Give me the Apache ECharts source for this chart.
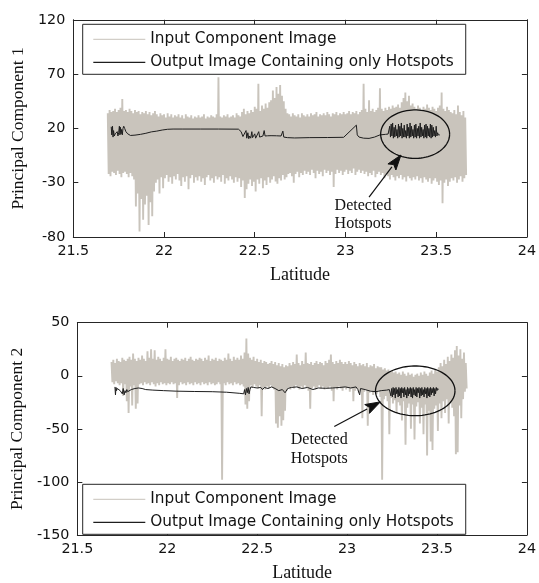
<!DOCTYPE html>
<html><head><meta charset="utf-8">
<script src="https://cdn.jsdelivr.net/npm/echarts@6/dist/echarts.min.js"></script>
<style>html,body{margin:0;padding:0;background:#fff}#c{width:539px;height:583px}</style>
</head><body><div id="c"></div>
<script>
// ---------- data ----------
const seriesNames = ['Input Component Image', 'Output Image Containing only Hotspots'];
const xTicks = [21.5, 22, 22.5, 23, 23.5, 24];
const pc1Ticks = [-80, -30, 20, 70, 120];
const pc2Ticks = [-150, -100, -50, 0, 50];

// input image: sampled every 0.01 deg of latitude from 21.69, upper / lower excursion per sample
const latStart = 21.69, latStep = 0.01;
const pc1High = [
  34, 37, 35, 36, 38, 35, 37, 39, 47, 36,
  37, 35, 38, 36, 34, 37, 35, 36, 33, 35,
  34, 36, 33, 35, 32, 34, 36, 33, 31, 34,
  32, 33, 30, 34, 31, 33, 30, 32, 31, 33,
  30, 32, 29, 33, 31, 30, 32, 29, 31, 30,
  32, 30, 31, 33, 29, 31, 30, 32, 31, 30,
  33, 67, 31, 30, 32, 31, 33, 30, 31, 32,
  30, 34, 32, 31, 35, 38, 33, 36, 34, 37,
  35, 40, 38, 61, 36, 41, 38, 43, 39, 44,
  46, 55, 48, 58, 52, 60, 50, 45, 38, 34,
  33, 31, 34, 32, 31, 33, 30, 34, 32, 31,
  33, 31, 34, 32, 33, 35, 31, 33, 32, 34,
  32, 35, 33, 31, 34, 33, 35, 32, 34, 33,
  35, 33, 34, 36, 33, 35, 34, 36, 33, 35,
  37, 61, 38, 35, 46, 36, 38, 35, 37, 39,
  57, 38, 36, 39, 37, 40, 38, 41, 39, 40,
  42, 39, 44, 48, 53, 45, 50, 41, 43, 40,
  38, 41, 39, 37, 40, 38, 42, 39, 37, 40,
  38, 36, 39, 41, 53, 38, 36, 40, 37, 35,
  34, 37, 33, 41, 35, 32, 36, 30
];
const pc1Low = [
  -22, -24, -20, -21, -23, -19, -22, -25, -21, -20,
  -22, -25, -21, -24, -27, -52, -40, -75, -45, -64,
  -50, -42, -69, -48, -61, -38, -30, -27, -40, -25,
  -35, -26, -23, -29, -25, -31, -24, -27, -22, -28,
  -33, -25, -29, -24, -36, -26, -23, -30, -25, -28,
  -24, -29, -26, -32, -25, -23, -28, -26, -30, -24,
  -27, -25, -29, -23, -31, -26, -28, -24, -27, -30,
  -25, -29, -26, -34, -28, -44, -36, -31, -27, -33,
  -29, -38, -27, -31, -26, -35, -28, -32, -25, -30,
  -27, -24, -29, -31, -26, -28, -23, -27, -25, -22,
  -21, -24, -30, -22, -20, -25, -21, -23, -19, -22,
  -20, -23, -18, -21, -26, -19, -22, -20, -24, -18,
  -21, -19, -23, -20, -34, -22, -18, -21, -19, -23,
  -20, -18, -22, -19, -21, -17, -23, -20, -18, -21,
  -19, -22, -20, -24, -21, -23, -19, -25, -22, -20,
  -23, -21, -26, -22, -24, -27, -23, -25, -28, -24,
  -26, -23, -27, -25, -29, -24, -26, -28, -25, -27,
  -24, -28, -26, -30, -25, -27, -29, -26, -31, -28,
  -26, -29, -32, -28, -49, -30, -27, -33, -29, -26,
  -28, -25, -30, -27, -24, -29, -26, -23
];
const pc2High = [
  13, 15, 12, 16, 14, 13, 17, 15, 14, 16,
  18, 15, 21, 16, 14, 17, 15, 19, 16, 14,
  23, 17, 25, 16, 24, 15, 18, 16, 14, 17,
  25, 16, 15, 18, 14, 16, 17, 15, 14, 16,
  15, 17, 14, 16, 18, 15, 14, 16, 15, 17,
  16, 14, 17, 15, 19, 14, 16, 15, 17, 14,
  16, 15, 14, 17, 15, 21, 16, 14, 18, 15,
  17, 15, 19, 16, 22, 35, 21, 17, 15, 18,
  14, 16, 13, 15, 12, 14, 13, 11, 12, 14,
  11, 13, 10, 12, 9, 11, 8, 10, 9, 12,
  10, 13, 11, 20, 12, 10, 14, 11, 22, 12,
  11, 13, 10, 12, 14, 11, 13, 12, 10, 14,
  12, 15, 20, 13, 11, 14, 12, 15, 13, 11,
  13, 11, 14, 12, 10, 13, 11, 9, 12, 10,
  11, 9, 12, 8, 10, 9, 11, 7, 9, 8,
  8, 6, 7, 5, 6, 4, 5, 3, 4, 2,
  3, 1, 4, 2, 0, 3, 1, 2, -1, 1,
  2, 0, 3, 1, 4, 2, 0, 3, 5, 2,
  6, 4, 8, 12, 9, 15, 11, 18, 14, 20,
  17, 24, 28, 19, 25, 16, 22, 12
];
const pc2Low = [
  -6, -8, -5, -7, -9, -7, -19, -8, -24, -35,
  -10, -28, -9, -31, -26, -8, -7, -9, -6, -8,
  -7, -9, -6, -8, -10, -7, -9, -6, -8, -7,
  -9, -7, -8, -6, -8, -7, -21, -9, -6, -8,
  -7, -9, -6, -8, -7, -9, -6, -8, -7, -9,
  -6, -8, -7, -9, -6, -8, -7, -9, -8, -6,
  -8, -98, -7, -9, -6, -8, -7, -9, -6, -8,
  -7, -9, -8, -10, -27, -31, -24, -9, -11, -8,
  -10, -12, -9, -38, -11, -13, -10, -12, -9, -11,
  -13, -45, -49, -38, -47, -42, -33, -14, -11, -13,
  -10, -12, -9, -11, -13, -10, -12, -9, -11, -14,
  -31, -12, -10, -13, -11, -9, -12, -10, -13, -11,
  -12, -10, -14, -24, -11, -13, -10, -12, -14, -11,
  -13, -11, -15, -12, -24, -14, -12, -16, -13, -40,
  -15, -13, -47, -16, -14, -18, -15, -17, -14, -20,
  -98, -22, -19, -24, -55, -21, -26, -23, -35, -25,
  -28, -42, -24, -65, -30, -26, -50, -27, -60, -29,
  -25, -45, -30, -55, -27, -75, -33, -62, -70, -31,
  -28, -52, -26, -40, -24, -35, -22, -45, -25, -30,
  -38, -74, -72, -28, -40, -22, -15, -12
];

// output image (hotspots only)
const pc1OutLat = [21.709, 21.712, 21.716, 21.719, 21.722, 21.726, 21.731, 21.736, 21.742, 21.746,
  21.750, 21.754, 21.757, 21.760, 21.763, 21.766, 21.770, 21.774, 21.778, 21.783,
  21.790, 21.800, 21.815, 21.84, 21.87, 21.90, 21.93, 21.96, 21.99, 22.02,
  22.05, 22.10, 22.20, 22.30, 22.41, 22.425, 22.435, 22.445, 22.452, 22.456,
  22.462, 22.467, 22.472, 22.478, 22.484, 22.488, 22.494, 22.50, 22.505, 22.515,
  22.522, 22.527, 22.535, 22.545, 22.552, 22.557, 22.57, 22.59, 22.62, 22.645,
  22.655, 22.66, 22.68, 22.72, 22.80, 22.90, 22.99, 23.06, 23.065, 23.075,
  23.10, 23.13, 23.16, 23.19, 23.22, 23.235];
const pc1OutVal = [21.5, 14, 22, 12, 18, 13, 15, 14, 17, 13,
  16, 22, 14, 21, 15, 19, 14, 20, 22, 20,
  17, 15, 13.5, 13.8, 14.5, 15.5, 16.8, 17.5, 18.5, 19.2,
  19.4, 19.4, 19.4, 19.4, 19.3, 17, 12.5, 10.8, 18, 11,
  16, 10.5, 13, 11, 17, 11.5, 12, 15, 11, 11.5,
  17, 12, 11.8, 13, 18, 13, 13.2, 13.3, 13.2, 13.0,
  17.5, 12, 11.5, 11.2, 11.5, 11.6, 11.8, 23, 14, 12,
  11, 10.8, 12, 14, 14.5, 14.8];
// dense hotspot stretch, one reading every 0.004 deg from 23.24
const hotStart = 23.24, hotStep = 0.004;
const pc1HotVal = [
  14, 22, 12, 24, 13, 25, 11, 21, 12, 23,
  13, 19, 11, 24, 12, 22, 13, 25, 11, 20,
  12, 23, 12, 18, 11, 24, 13, 21, 11, 25,
  12, 22, 13, 19, 11, 23, 12, 24, 11, 20,
  13, 22, 11, 25, 12, 21, 13, 19, 11, 23,
  12, 24, 11, 22, 13, 20, 12, 24, 11, 23,
  12, 21, 13, 18, 12, 22, 13, 16, 14, 15, 14];

const pc2OutLat = [21.709, 21.712, 21.715, 21.718, 21.722, 21.726, 21.732, 21.738, 21.744, 21.75,
  21.755, 21.76, 21.765, 21.77, 21.775, 21.78, 21.79, 21.80, 21.82, 21.84,
  21.86, 21.88, 21.92, 21.98, 22.05, 22.15, 22.25, 22.33, 22.40, 22.425,
  22.43, 22.435, 22.44, 22.445, 22.45, 22.455, 22.46, 22.465, 22.47, 22.48,
  22.50, 22.52, 22.53, 22.54, 22.56, 22.58, 22.60, 22.62, 22.64, 22.655,
  22.67, 22.69, 22.72, 22.75, 22.78, 22.81, 22.84, 22.88, 22.92, 22.96,
  22.99, 23.02, 23.05, 23.06, 23.07, 23.075, 23.085, 23.10, 23.13, 23.16,
  23.19, 23.22, 23.235];
const pc2OutVal = [-10.5, -18, -11, -14, -12, -13, -11.5, -14, -13, -17,
  -12, -18, -14, -16, -13, -15, -14, -13, -12, -11.5,
  -12, -13, -13.5, -14, -14.5, -14.8, -15, -15.5, -16.5, -17,
  -13, -18, -12, -16, -11, -17, -13, -10.5, -12, -11,
  -11.5, -11, -13, -11, -12, -10.5, -12, -14, -13, -16,
  -12, -11, -10.5, -12, -11, -13, -11.5, -11.8, -11.5, -11,
  -10.5, -11.5, -10.5, -13, -18, -12, -11, -13, -14.5, -15,
  -14, -13.5, -13];
const pc2HotVal = [
  -13, -19, -12, -20, -11, -18, -12, -21, -11, -17,
  -13, -20, -11, -19, -12, -21, -11, -16, -12, -20,
  -11, -18, -13, -21, -11, -19, -12, -17, -11, -20,
  -12, -21, -11, -18, -13, -19, -11, -20, -12, -16,
  -11, -21, -12, -19, -11, -18, -13, -20, -11, -17,
  -12, -21, -11, -19, -12, -20, -11, -18, -12, -16,
  -11, -19, -12, -17, -11, -14, -12, -13];

// annotations (in data coordinates)
const pc1Circle = {lat: 23.384, val: 14.7, rLat: 0.19, rVal: 22.3};
const pc1Arrow = {fromLat: 23.13, fromVal: -43.2, toLat: 23.306, toVal: -4.5};
const pc1Note = {lat: 22.94, val: -42.6, text: 'Detected\nHotspots'};
const pc2Circle = {lat: 23.379, val: -14.2, rLat: 0.221, rVal: 23.4};
const pc2Arrow = {fromLat: 22.929, fromVal: -47.8, toLat: 23.185, toVal: -24.6};
const pc2Note = {lat: 22.687, val: -51.6, text: 'Detected\nHotspots'};

// ---------- build ----------
function bandData(hi, lo) {
  const d = [];
  for (let i = 0; i < hi.length; i++) {
    const x = latStart + i * latStep;
    d.push([x, hi[i]]);
    d.push([x + latStep / 2, lo[i]]);
  }
  return d;
}
function outData(lats, vals, hot) {
  const d = lats.map((x, i) => [x, vals[i]]);
  hot.forEach((v, i) => d.push([hotStart + i * hotStep, v]));
  return d;
}

const GRAY = '#c9c4bc', BLACK = '#1e1e1e', AXIS = '#262626';
const tickFont = {fontFamily: 'DejaVu Sans', fontSize: 14.3, color: '#111'};
const nameFont = {fontFamily: 'Liberation Serif', fontSize: 17.5, color: '#111'};

function xAxes(gi) {
  return [{
    gridIndex: gi, type: 'value', min: 21.5, max: 24, interval: 0.5,
    axisLine: {show: true, onZero: false, lineStyle: {color: AXIS, width: 1}},
    axisTick: {show: true, inside: true, length: 5, lineStyle: {color: AXIS}},
    axisLabel: Object.assign({margin: 7}, tickFont),
    splitLine: {show: false},
    name: 'Latitude', nameLocation: 'middle', nameGap: 29, nameTextStyle: Object.assign({}, nameFont, {fontSize: 18})
  }, {
    gridIndex: gi, type: 'value', min: 21.5, max: 24, interval: 0.5, position: 'top',
    axisLine: {show: true, onZero: false, lineStyle: {color: AXIS, width: 1}},
    axisTick: {show: true, inside: true, length: 5, lineStyle: {color: AXIS}},
    axisLabel: {show: false}, splitLine: {show: false}
  }];
}
function yAxes(gi, lo, hi, ticks, name) {
  return [{
    gridIndex: gi, type: 'value', min: lo, max: hi,
    axisLine: {show: true, onZero: false, lineStyle: {color: AXIS, width: 1}},
    axisTick: {show: true, inside: true, length: 5, customValues: ticks, lineStyle: {color: AXIS}},
    axisLabel: Object.assign({margin: 8, customValues: ticks}, tickFont),
    splitLine: {show: false},
    name: name, nameLocation: 'middle', nameGap: 43, nameTextStyle: nameFont
  }, {
    gridIndex: gi, type: 'value', min: lo, max: hi, position: 'right',
    axisLine: {show: true, onZero: false, lineStyle: {color: AXIS, width: 1}},
    axisTick: {show: true, inside: true, length: 5, customValues: ticks, lineStyle: {color: AXIS}},
    axisLabel: {show: false}, splitLine: {show: false}
  }];
}
function legendAt(top) {
  return {
    top: top, left: 82.7, orient: 'vertical', data: seriesNames, selectedMode: false,
    icon: 'rect', itemWidth: 52, itemHeight: 1.3, itemGap: 8, padding: [7.5, 12, 4.5, 10.6],
    borderColor: AXIS, borderWidth: 1, backgroundColor: '#fff', borderRadius: 0,
    textStyle: {fontFamily: 'DejaVu Sans', fontSize: 15.3, color: '#111'}, z: 10
  };
}

const option = {
  animation: false,
  backgroundColor: '#fff',
  grid: [
    {left: 73.3, right: 10.7, top: 19.8, height: 217.2},
    {left: 73.3, right: 10.7, top: 322.7, height: 216.5}
  ],
  xAxis: xAxes(0).concat(xAxes(1)),
  yAxis: yAxes(0, -80, 120, pc1Ticks, 'Principal Component 1').concat(yAxes(1, -150, 50, pc2Ticks, 'Principal Component 2')),
  legend: [legendAt(24.3), legendAt(484.3)],
  series: [
    {name: seriesNames[0], type: 'line', xAxisIndex: 0, yAxisIndex: 0, data: bandData(pc1High, pc1Low),
     symbol: 'none', showSymbol: false, silent: true, z: 1, lineStyle: {color: GRAY, width: 1.9}, itemStyle: {color: '#d2cec8'}},
    {name: seriesNames[1], type: 'line', xAxisIndex: 0, yAxisIndex: 0, data: outData(pc1OutLat, pc1OutVal, pc1HotVal),
     symbol: 'none', showSymbol: false, silent: true, z: 2, lineStyle: {color: BLACK, width: 1}, itemStyle: {color: BLACK}},
    {name: seriesNames[0], type: 'line', xAxisIndex: 2, yAxisIndex: 2, data: bandData(pc2High, pc2Low),
     symbol: 'none', showSymbol: false, silent: true, z: 1, lineStyle: {color: GRAY, width: 1.9}, itemStyle: {color: '#d2cec8'}},
    {name: seriesNames[1], type: 'line', xAxisIndex: 2, yAxisIndex: 2, data: outData(pc2OutLat, pc2OutVal, pc2HotVal),
     symbol: 'none', showSymbol: false, silent: true, z: 2, lineStyle: {color: BLACK, width: 1}, itemStyle: {color: BLACK}}
  ]
};

const chart = echarts.init(document.getElementById('c'), null, {renderer: 'canvas'});
chart.setOption(option);

function toPx(gi, lat, val) {
  return chart.convertToPixel(gi === 0 ? {xAxisIndex: 0, yAxisIndex: 0} : {xAxisIndex: 2, yAxisIndex: 2}, [lat, val]);
}
function annotations(gi, circ, arrow, note) {
  const c = toPx(gi, circ.lat, circ.val);
  const e = toPx(gi, circ.lat + circ.rLat, circ.val + circ.rVal);
  const rx = Math.abs(e[0] - c[0]), ry = Math.abs(e[1] - c[1]);
  const pts = [];
  for (let k = 0; k <= 90; k++) {
    const t = k / 90 * Math.PI * 2;
    pts.push([c[0] + rx * Math.cos(t), c[1] + ry * Math.sin(t)]);
  }
  const a = toPx(gi, arrow.fromLat, arrow.fromVal);
  const b = toPx(gi, arrow.toLat, arrow.toVal);
  const dx = b[0] - a[0], dy = b[1] - a[1], L = Math.hypot(dx, dy);
  const ux = dx / L, uy = dy / L, hl = 15, hw = 5;
  const base = [b[0] - ux * hl, b[1] - uy * hl];
  const n = toPx(gi, note.lat, note.val);
  return [
    {type: 'polyline', silent: true, z: 50, shape: {points: pts}, style: {stroke: '#111', lineWidth: 1.3, fill: null}},
    {type: 'line', silent: true, z: 50, shape: {x1: a[0], y1: a[1], x2: base[0], y2: base[1]}, style: {stroke: '#111', lineWidth: 1.2}},
    {type: 'polygon', silent: true, z: 50, shape: {points: [b, [base[0] - uy * hw, base[1] + ux * hw], [base[0] + ux * 3, base[1] + uy * 3], [base[0] + uy * hw, base[1] - ux * hw]]}, style: {fill: '#111', stroke: '#111', lineWidth: 1}},
    {type: 'text', silent: true, z: 50, x: n[0], y: n[1], style: {text: note.text, font: '16px "Liberation Serif"', fill: '#111', textAlign: 'left', textVerticalAlign: 'top', lineHeight: 18.6}}
  ];
}
chart.setOption({graphic: annotations(0, pc1Circle, pc1Arrow, pc1Note).concat(annotations(1, pc2Circle, pc2Arrow, pc2Note))});
</script>
</body></html>
